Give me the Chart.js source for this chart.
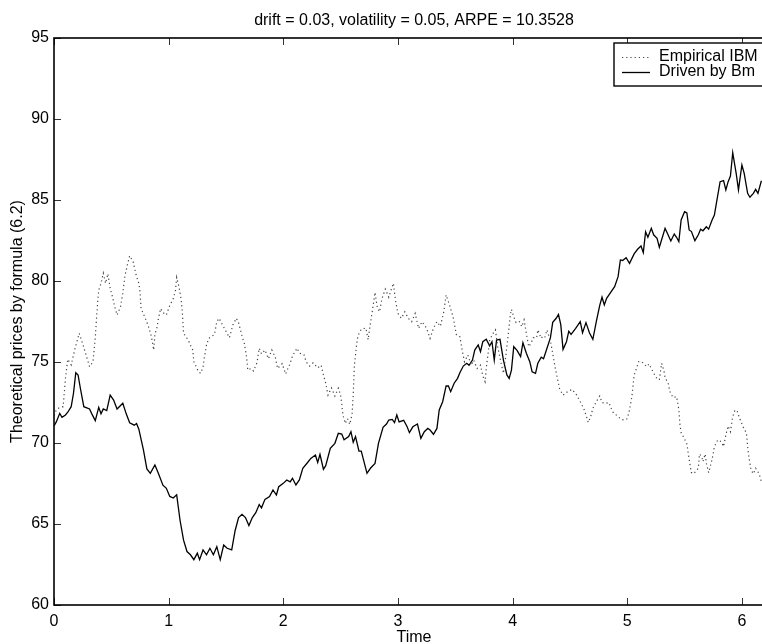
<!DOCTYPE html>
<html>
<head>
<meta charset="utf-8">
<script src="https://cdn.jsdelivr.net/npm/chart.js@4.4.0/dist/chart.umd.min.js"></script>
<style>
  html, body { margin: 0; padding: 0; background: #fff; overflow: hidden; width: 762px; height: 644px; }
  #wrap { position: relative; width: 780px; height: 644px; }
</style>
</head>
<body>
<div id="wrap"><canvas id="c" width="780" height="644"></canvas></div>
<script>
// ---- text ----
const chartTitle = 'drift = 0.03, volatility = 0.05, ARPE = 10.3528';
const xTitle = 'Time';
const yTitle = 'Theoretical prices by formula (6.2)';
const seriesNames = ['Empirical IBM', 'Driven by Bm'];

// ---- tick values ----
const xTicks = [0, 1, 2, 3, 4, 5, 6];
const yTicks = [60, 65, 70, 75, 80, 85, 90, 95];

// ---- empirical IBM prices ----
const timeIbm = [0.00,0.02,0.05,0.08,0.10,0.12,0.15,0.18,0.22,0.24,0.28,0.31,0.34,0.36,0.37,0.38,0.39,0.41,0.43,0.45,
  0.47,0.49,0.51,0.53,0.55,0.58,0.60,0.62,0.64,0.66,0.69,0.72,0.74,0.75,0.76,0.79,0.82,0.85,0.87,0.88,
  0.90,0.91,0.93,0.95,0.98,1.01,1.04,1.06,1.07,1.09,1.11,1.12,1.13,1.17,1.21,1.22,1.26,1.28,1.30,1.31,
  1.33,1.35,1.40,1.42,1.44,1.47,1.50,1.53,1.56,1.59,1.61,1.64,1.66,1.68,1.69,1.72,1.74,1.77,1.79,1.81,
  1.84,1.87,1.90,1.93,1.95,1.99,2.02,2.06,2.08,2.12,2.14,2.18,2.20,2.23,2.26,2.30,2.33,2.35,2.37,2.39,
  2.42,2.45,2.48,2.50,2.51,2.52,2.54,2.56,2.58,2.60,2.61,2.62,2.64,2.65,2.68,2.72,2.74,2.76,2.78,2.80,
  2.82,2.84,2.86,2.89,2.92,2.94,2.96,2.98,3.00,3.03,3.06,3.09,3.12,3.15,3.18,3.21,3.25,3.28,3.31,3.34,
  3.37,3.40,3.42,3.45,3.48,3.51,3.54,3.56,3.58,3.61,3.64,3.66,3.69,3.72,3.74,3.76,3.77,3.79,3.80,3.83,
  3.85,3.87,3.90,3.92,3.94,3.96,3.98,3.99,4.01,4.03,4.06,4.08,4.10,4.12,4.14,4.16,4.18,4.21,4.22,4.25,
  4.26,4.28,4.30,4.33,4.35,4.37,4.39,4.41,4.44,4.48,4.52,4.56,4.59,4.62,4.64,4.66,4.68,4.70,4.73,4.76,
  4.78,4.81,4.84,4.86,4.88,4.90,4.92,4.95,4.98,5.00,5.02,5.03,5.04,5.05,5.06,5.08,5.10,5.13,5.17,5.19,
  5.22,5.25,5.28,5.30,5.32,5.33,5.36,5.37,5.40,5.43,5.44,5.45,5.46,5.47,5.49,5.52,5.53,5.54,5.55,5.56,
  5.58,5.62,5.63,5.65,5.66,5.68,5.69,5.71,5.72,5.74,5.75,5.76,5.79,5.82,5.84,5.86,5.88,5.90,5.92,5.94,
  5.96,5.98,6.01,6.04,6.05,6.06,6.08,6.10,6.12,6.15,6.17];
const priceIbm = [71.7,72.04,72.2,72.24,74.0,75.17,74.82,75.74,76.77,76.36,75.43,74.71,75.02,76.5,77.6,78.62,79.44,79.86,80.48,79.86,
  80.45,79.55,79.03,78.41,77.9,78.41,79.24,80.37,80.99,81.56,81.19,80.27,79.86,79.34,78.3,77.8,77.28,76.56,75.74,76.7,
  77.18,77.65,78.3,78.05,77.9,78.5,78.9,79.44,80.22,79.65,78.8,78.0,76.77,76.36,75.74,75.02,74.4,74.3,74.71,75.2,
  76.05,76.46,76.7,77.49,77.7,77.28,76.9,76.5,77.28,77.7,77.43,76.6,76.15,75.29,74.5,74.6,74.45,74.95,75.85,75.5,
  75.74,75.2,75.74,75.3,74.6,74.9,74.26,74.92,75.37,75.85,75.55,75.45,75.0,74.75,74.95,74.64,74.8,74.2,73.69,72.96,
  73.4,72.9,73.38,72.96,72.4,71.73,71.21,71.5,71.15,71.8,73.0,74.8,76.1,76.6,77.02,77.1,76.38,77.4,78.3,79.3,
  78.35,78.1,78.9,79.5,79.0,79.45,79.86,78.75,78.0,77.7,78.1,77.7,77.49,78.0,77.08,77.49,77.08,76.46,77.08,77.49,
  77.2,78.1,79.14,78.52,77.8,76.67,76.56,75.74,75.02,75.43,74.8,75.12,74.6,74.8,74.14,73.78,74.6,75.74,76.36,76.77,
  76.98,75.95,74.92,74.3,75.33,76.56,77.9,78.25,77.8,77.43,77.49,77.18,77.6,76.77,75.95,76.15,76.5,76.5,76.98,76.46,
  76.56,76.5,76.98,76.3,75.53,74.7,74.0,73.35,72.95,73.17,73.31,72.95,72.55,72.14,71.73,71.27,71.6,72.14,72.55,72.9,
  72.5,72.45,72.5,72.14,71.84,71.75,71.63,71.45,71.42,71.5,72.04,72.45,72.86,73.5,74.19,74.6,75.02,75.0,74.71,74.88,
  74.46,74.05,73.9,74.92,74.46,74.05,73.62,73.2,72.8,72.86,72.49,72.04,71.11,70.64,70.39,69.94,69.47,68.99,68.54,68.17,
  68.1,68.44,69.32,69.17,68.85,69.32,68.75,68.17,68.44,68.99,69.37,69.78,70.19,70.09,69.78,70.5,71.05,70.7,71.63,72.04,
  71.94,71.53,71.0,70.6,69.78,69.17,68.33,68.1,68.44,68.1,67.61];

// ---- prices driven by Brownian motion ----
const timeBm = [0.00,0.02,0.05,0.07,0.10,0.12,0.15,0.17,0.19,0.21,0.23,0.26,0.31,0.33,0.36,0.39,0.41,0.43,0.46,0.49,
  0.52,0.55,0.60,0.63,0.66,0.70,0.72,0.74,0.78,0.81,0.84,0.88,0.91,0.95,0.98,1.01,1.04,1.07,1.10,1.13,
  1.16,1.19,1.22,1.25,1.27,1.30,1.33,1.36,1.39,1.42,1.45,1.48,1.51,1.55,1.58,1.61,1.64,1.67,1.70,1.73,
  1.76,1.79,1.81,1.84,1.88,1.91,1.94,1.96,2.00,2.03,2.06,2.08,2.11,2.14,2.17,2.21,2.24,2.28,2.30,2.32,
  2.35,2.37,2.41,2.45,2.48,2.51,2.53,2.57,2.59,2.61,2.63,2.66,2.68,2.73,2.76,2.80,2.83,2.87,2.90,2.92,
  2.95,2.97,2.99,3.01,3.05,3.08,3.10,3.13,3.17,3.20,3.23,3.26,3.28,3.31,3.34,3.36,3.39,3.42,3.44,3.46,
  3.49,3.52,3.54,3.57,3.60,3.62,3.65,3.67,3.70,3.72,3.74,3.77,3.80,3.82,3.84,3.86,3.89,3.92,3.95,3.97,
  3.99,4.01,4.04,4.07,4.09,4.12,4.15,4.17,4.20,4.22,4.25,4.27,4.30,4.33,4.35,4.38,4.40,4.42,4.44,4.47,
  4.49,4.51,4.55,4.59,4.61,4.64,4.67,4.70,4.73,4.76,4.78,4.80,4.82,4.86,4.89,4.92,4.94,4.96,4.99,5.02,
  5.06,5.09,5.12,5.14,5.16,5.18,5.21,5.23,5.26,5.28,5.33,5.35,5.38,5.41,5.43,5.45,5.47,5.50,5.52,5.54,
  5.56,5.59,5.62,5.64,5.66,5.69,5.71,5.74,5.76,5.78,5.81,5.84,5.86,5.88,5.90,5.92,5.95,5.97,6.00,6.02,
  6.05,6.07,6.10,6.12,6.14,6.17];
const priceBm = [71.05,71.3,71.83,71.59,71.73,71.9,72.24,73.07,74.34,74.2,73.38,72.24,72.1,71.8,71.38,72.2,71.8,72.1,72.0,72.96,
  72.65,72.1,72.45,71.8,71.25,71.1,71.2,70.85,69.57,68.4,68.13,68.64,68.13,67.4,67.2,66.7,66.6,66.8,65.2,64.0,
  63.3,63.1,62.8,63.2,62.8,63.4,63.1,63.5,63.1,63.6,62.8,63.7,63.5,63.4,64.6,65.4,65.6,65.4,64.9,65.4,
  65.7,66.2,66.0,66.52,66.69,67.1,66.79,67.3,67.51,67.72,67.6,67.82,67.41,67.72,68.44,68.78,69.05,69.26,68.8,69.3,
  68.38,68.6,69.67,69.98,70.6,70.55,70.2,70.4,70.7,70.05,70.4,69.5,69.5,68.13,68.44,68.74,69.98,70.97,71.17,71.42,
  71.46,71.26,71.73,71.3,71.4,71.0,70.64,71.0,71.17,70.29,70.7,70.9,70.8,70.54,70.9,72.04,72.55,73.52,73.52,73.17,
  73.69,73.99,74.34,74.75,74.92,74.8,75.12,75.74,76.05,75.64,76.25,76.4,76.0,76.25,75.12,76.35,76.4,75.12,74.2,73.99,
  74.5,75.95,75.7,75.33,76.19,75.54,75.02,74.4,74.3,74.92,75.3,75.2,75.85,76.5,77.45,77.7,77.93,77.32,75.78,76.25,
  76.9,76.7,77.08,77.49,76.81,77.43,76.81,76.4,77.49,78.5,79.0,78.52,78.93,79.34,79.65,80.27,81.3,81.27,81.44,81.09,
  81.67,81.96,82.16,81.75,83.04,82.7,83.25,82.85,82.64,82.08,83.25,82.95,82.47,82.9,82.7,82.43,83.77,84.28,84.2,83.15,
  83.05,82.49,82.85,83.19,83.1,83.35,83.2,83.77,84.07,84.9,86.13,86.2,85.62,86.13,86.48,87.92,86.65,85.62,87.16,86.65,
  85.41,85.17,85.41,85.66,85.41,86.19];

const toPoints = (xs, ys) => xs.map((t, i) => ({ x: t, y: ys[i] }));

const FONT = "'Liberation Sans', Arial, Helvetica, sans-serif";
Chart.defaults.font.family = FONT;
Chart.defaults.font.size = 16;
Chart.defaults.color = '#000';

// MATLAB-style frame: full box with inward tick marks on every side
const framePlugin = {
  id: 'frame',
  afterDatasetsDraw(chart) {
    const { ctx, chartArea: a, scales: { x, y } } = chart;
    const len = 7;
    ctx.save();
    ctx.strokeStyle = '#333';
    ctx.lineWidth = 1;
    ctx.beginPath();
    x.ticks.forEach(t => {
      const px = Math.round(x.getPixelForValue(t.value)) + 0.5;
      ctx.moveTo(px, a.bottom); ctx.lineTo(px, a.bottom - len);
      ctx.moveTo(px, a.top); ctx.lineTo(px, a.top + len);
    });
    y.ticks.forEach(t => {
      const py = Math.round(y.getPixelForValue(t.value)) + 0.5;
      ctx.moveTo(a.left, py); ctx.lineTo(a.left + len, py);
      ctx.moveTo(a.right, py); ctx.lineTo(a.right - len, py);
    });
    ctx.stroke();
    ctx.strokeStyle = '#000';
    ctx.lineWidth = 1.6;
    ctx.strokeRect(a.left, a.top, a.right - a.left, a.bottom - a.top);
    ctx.restore();
  }
};

// boxed legend in the upper-right corner of the axes
const boxLegendPlugin = {
  id: 'boxLegend',
  afterDraw(chart) {
    const { ctx, chartArea: a } = chart;
    const right = a.right - 4, top = a.top + 5;
    const left = a.right - 160, bottom = a.top + 48;
    const sx0 = a.right - 152, sx1 = a.right - 124, tx = a.right - 115;
    const rows = [a.top + 19, a.top + 34];
    ctx.save();
    ctx.fillStyle = '#fff';
    ctx.fillRect(left, top, right - left, bottom - top);
    ctx.strokeStyle = '#000';
    ctx.lineWidth = 1.4;
    ctx.strokeRect(left, top, right - left, bottom - top);
    chart.data.datasets.forEach((ds, i) => {
      const yy = Math.round(rows[i]) + 0.5;
      ctx.strokeStyle = ds.borderColor;
      ctx.lineWidth = ds.borderWidth;
      ctx.setLineDash(ds.borderDash || []);
      ctx.beginPath(); ctx.moveTo(sx0, yy); ctx.lineTo(sx1, yy); ctx.stroke();
      ctx.setLineDash([]);
      ctx.fillStyle = '#000';
      ctx.font = '16px ' + FONT;
      ctx.textBaseline = 'middle';
      ctx.textAlign = 'left';
      ctx.fillText(ds.label, tx, rows[i]);
    });
    ctx.restore();
  }
};

new Chart(document.getElementById('c'), {
  type: 'line',
  data: {
    datasets: [
      {
        label: seriesNames[0],
        data: toPoints(timeIbm, priceIbm),
        borderColor: '#444',
        borderWidth: 1.2,
        borderDash: [1.2, 3],
        pointRadius: 0,
        tension: 0,
        fill: false
      },
      {
        label: seriesNames[1],
        data: toPoints(timeBm, priceBm),
        borderColor: '#000',
        borderWidth: 1.3,
        pointRadius: 0,
        tension: 0,
        fill: false
      }
    ]
  },
  options: {
    responsive: false,
    animation: false,
    devicePixelRatio: 1,
    layout: { padding: { left: 0, right: 6, top: 0, bottom: 0 } },
    plugins: {
      legend: { display: false },
      tooltip: { enabled: false },
      title: {
        display: true,
        text: chartTitle,
        fullSize: false,
        color: '#000',
        font: { size: 16, weight: 'normal', lineHeight: 1.2 },
        padding: { top: 11, bottom: 7.8 }
      }
    },
    scales: {
      x: {
        type: 'linear',
        min: 0,
        max: 6.28,
        afterBuildTicks: s => { s.ticks = xTicks.map(v => ({ value: v })); },
        afterFit: s => { s.height = 39; },
        grid: { display: false, drawTicks: false },
        border: { display: false },
        ticks: { padding: 7, color: '#000', font: { size: 16 }, maxRotation: 0 },
        title: { display: true, text: xTitle, color: '#000', font: { size: 16, lineHeight: 1 }, padding: { top: 0, bottom: -2 } }
      },
      y: {
        type: 'linear',
        min: 60,
        max: 95,
        afterBuildTicks: s => { s.ticks = yTicks.map(v => ({ value: v })); },
        afterFit: s => { s.width = 54; },
        grid: { display: false, drawTicks: false },
        border: { display: false },
        ticks: { padding: 5, color: '#000', font: { size: 16 } },
        title: { display: true, text: yTitle, color: '#000', font: { size: 16, lineHeight: 1 }, padding: { top: 10, bottom: 0 } }
      }
    }
  },
  plugins: [framePlugin, boxLegendPlugin]
});
</script>
</body>
</html>
